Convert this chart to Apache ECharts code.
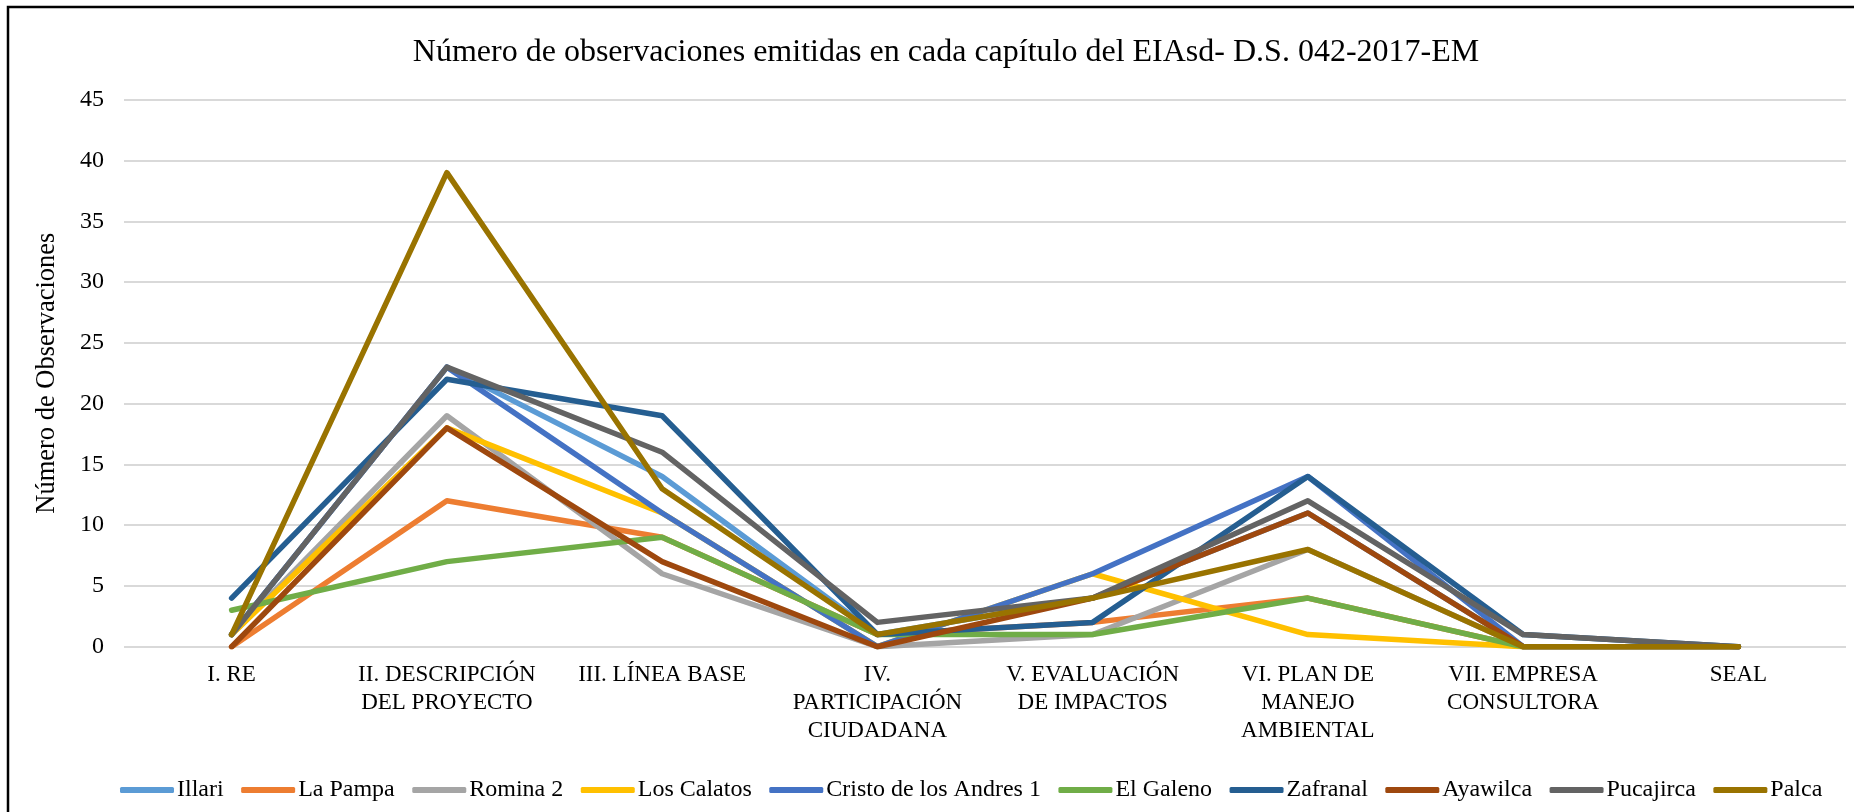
<!DOCTYPE html>
<html>
<head>
<meta charset="utf-8">
<title>Observaciones EIAsd</title>
<script src="https://cdn.jsdelivr.net/npm/echarts@6/dist/echarts.min.js"></script>
<style>
  html, body { margin: 0; padding: 0; background: #fff; }
  #chart { width: 1854px; height: 812px; }
</style>
</head>
<body>
<div id="chart"></div>
<script>
// Categories (chapters of the EIAsd)
const chapters = [
  'I. RE',
  'II. DESCRIPCIÓN\nDEL PROYECTO',
  'III. LÍNEA BASE',
  'IV.\nPARTICIPACIÓN\nCIUDADANA',
  'V. EVALUACIÓN\nDE IMPACTOS',
  'VI. PLAN DE\nMANEJO\nAMBIENTAL',
  'VII. EMPRESA\nCONSULTORA',
  'SEAL'
];

// Observations per project
const illari     = [1, 23, 14, 1, 4, 11, 0, 0];
const laPampa    = [0, 12, 9, 1, 2, 4, 0, 0];
const romina2    = [1, 19, 6, 0, 1, 8, 0, 0];
const losCalatos = [1, 18, 11, 0, 6, 1, 0, 0];
const cristo     = [1, 23, 11, 0, 6, 14, 0, 0];
const elGaleno   = [3, 7, 9, 1, 1, 4, 0, 0];
const zafranal   = [4, 22, 19, 1, 2, 14, 1, 0];
const ayawilca   = [0, 18, 7, 0, 4, 11, 0, 0];
const pucajirca  = [1, 23, 16, 2, 4, 12, 1, 0];
const palca      = [1, 39, 13, 1, 4, 8, 0, 0];

const yTicks = { min: 0, max: 45, interval: 5 };

const seriesDefs = [
  { name: 'Illari', data: illari, color: '#5B9BD5' },
  { name: 'La Pampa', data: laPampa, color: '#ED7D31' },
  { name: 'Romina 2', data: romina2, color: '#A5A5A5' },
  { name: 'Los Calatos', data: losCalatos, color: '#FFC000' },
  { name: 'Cristo de los Andres 1', data: cristo, color: '#4472C4' },
  { name: 'El Galeno', data: elGaleno, color: '#70AD47' },
  { name: 'Zafranal', data: zafranal, color: '#255E91' },
  { name: 'Ayawilca', data: ayawilca, color: '#9E480E' },
  { name: 'Pucajirca', data: pucajirca, color: '#636363' },
  { name: 'Palca', data: palca, color: '#997300' }
];

const font = '"Liberation Serif", "DejaVu Serif", serif';

const chart = echarts.init(document.getElementById('chart'), null, { renderer: 'canvas' });

const option = {
  backgroundColor: '#fff',
  animation: false,
  textStyle: { fontFamily: font, color: '#000' },
  title: {
    text: 'Número de observaciones emitidas en cada capítulo del EIAsd- D.S. 042-2017-EM',
    left: 941,
    textAlign: 'center',
    top: 32,
    textStyle: { fontFamily: font, fontSize: 32, fontWeight: 'normal', color: '#000' }
  },
  legend: {
    left: 115,
    top: 773,
    width: 1739,
    itemWidth: 54,
    itemHeight: 6,
    itemGap: 17.5,
    icon: 'roundRect',
    textStyle: { fontFamily: font, fontSize: 24, color: '#000', padding: [0, 0, 0, -2] },
    data: seriesDefs.map(s => s.name)
  },
  grid: { left: 124, right: 8, top: 99.7, bottom: 165.3, containLabel: false },
  xAxis: {
    type: 'category',
    data: chapters,
    boundaryGap: true,
    axisLine: { show: false },
    axisTick: { show: false },
    axisLabel: {
      interval: 0,
      margin: 14,
      fontFamily: font,
      fontSize: 23,
      lineHeight: 28,
      color: '#000',
      align: 'center'
    }
  },
  yAxis: {
    type: 'value',
    min: yTicks.min,
    max: yTicks.max,
    interval: yTicks.interval,
    name: 'Número de Observaciones',
    nameLocation: 'middle',
    nameGap: 63,
    nameTextStyle: { fontFamily: font, fontSize: 26.5, color: '#000' },
    axisLine: { show: false },
    axisTick: { show: false },
    axisLabel: { fontFamily: font, fontSize: 24, color: '#000', margin: 20 },
    splitLine: { lineStyle: { color: '#D9D9D9', width: 2 } }
  },
  graphic: [
    {
      type: 'rect',
      shape: { x: 8, y: 7, width: 1900, height: 900 },
      style: { fill: 'none', stroke: '#000', lineWidth: 2.5 },
      z: 100
    }
  ],
  series: seriesDefs.map(s => ({
    name: s.name,
    type: 'line',
    data: s.data,
    symbol: 'none',
    showSymbol: false,
    lineStyle: { width: 5.5, color: s.color, cap: 'round', join: 'round' },
    itemStyle: { color: s.color }
  }))
};

chart.setOption(option);
</script>
</body>
</html>
